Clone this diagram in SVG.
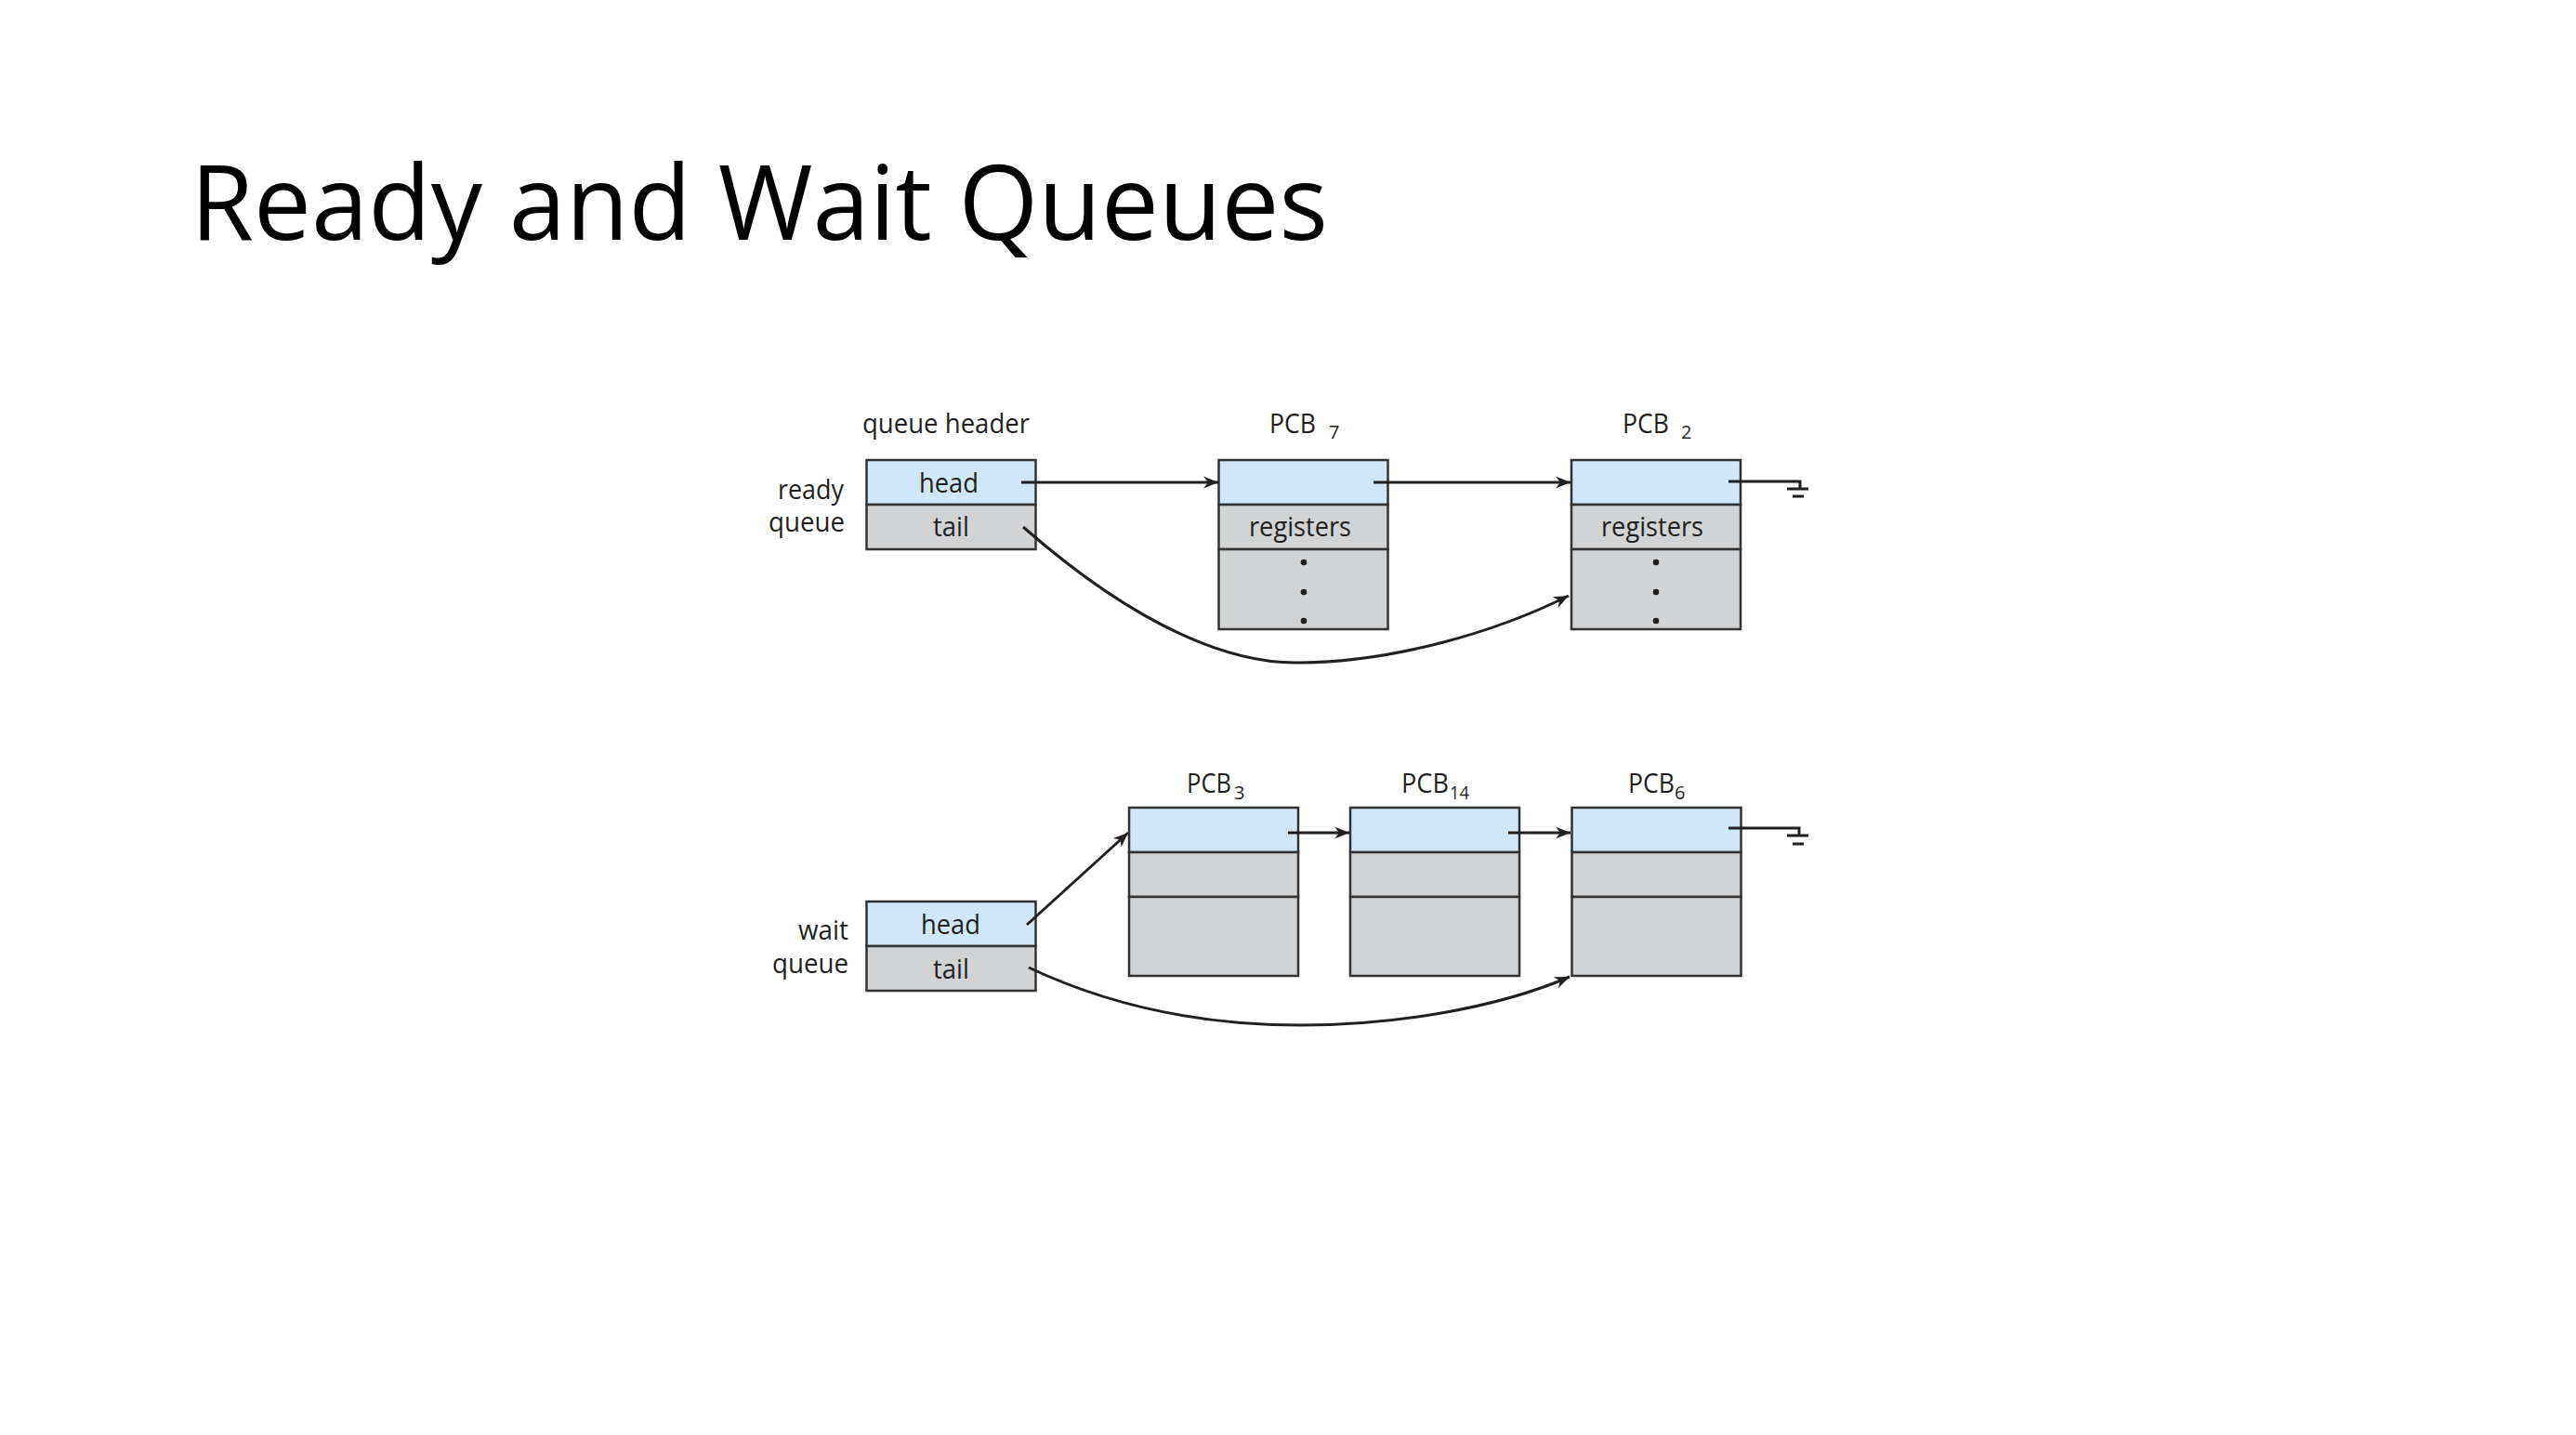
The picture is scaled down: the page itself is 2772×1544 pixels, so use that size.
<svg xmlns="http://www.w3.org/2000/svg" width="2772" height="1544" viewBox="0 0 2772 1544">
<defs>
<style>
.title{font-family:"Open Sans","Liberation Sans",sans-serif;font-weight:400;font-size:112px;fill:#000}
.lbl{font-family:"Open Sans","Liberation Sans",sans-serif;font-size:30px;fill:#231f20}
.sub{font-family:"Open Sans","Liberation Sans",sans-serif;font-size:20px;fill:#231f20}
.blue{fill:#cfe7f8;stroke:#333;stroke-width:2.5}
.gray{fill:#d2d3d5;stroke:#333;stroke-width:2.5}
.conn{fill:none;stroke:#231f20;stroke-width:3}
.gnd{fill:none;stroke:#231f20;stroke-width:3}
.dot{fill:#231f20}
</style>
<marker id="ah" viewBox="-16 -7 17 14" refX="0" refY="0" markerWidth="17" markerHeight="14" markerUnits="userSpaceOnUse" orient="auto">
<path d="M0,0 L-16,-6.5 L-11,0 L-16,6.5 Z" fill="#231f20"/>
</marker>
</defs>
<rect width="2772" height="1544" fill="#fff"/>
<text class="title" x="205" y="258" textLength="1224" lengthAdjust="spacingAndGlyphs">Ready and Wait Queues</text>

<g id="ready-queue-label">
<text class="lbl" x="837" y="537" textLength="71" lengthAdjust="spacingAndGlyphs">ready</text>
<text class="lbl" x="827" y="572" textLength="82" lengthAdjust="spacingAndGlyphs">queue</text>
</g>
<g id="ready-header">
<text class="lbl" x="928" y="466" textLength="180" lengthAdjust="spacingAndGlyphs">queue header</text>
<rect class="blue" x="932.5" y="495" width="182" height="48"/>
<rect class="gray" x="932.5" y="543" width="182" height="48"/>
<text class="lbl" x="989" y="530" textLength="64" lengthAdjust="spacingAndGlyphs">head</text>
<text class="lbl" x="1004" y="577" textLength="39" lengthAdjust="spacingAndGlyphs">tail</text>
</g>
<g id="pcb7">
<text class="lbl" x="1366" y="466" textLength="50" lengthAdjust="spacingAndGlyphs">PCB</text>
<text class="sub" x="1430" y="472">7</text>
<rect class="blue" x="1311.5" y="495" width="182" height="48"/>
<rect class="gray" x="1311.5" y="543" width="182" height="48"/>
<rect class="gray" x="1311.5" y="591" width="182" height="86"/>
<text class="lbl" x="1344" y="577" textLength="110" lengthAdjust="spacingAndGlyphs">registers</text>
<circle class="dot" cx="1403" cy="605" r="3.3"/>
<circle class="dot" cx="1403" cy="637" r="3.3"/>
<circle class="dot" cx="1403" cy="668" r="3.3"/>
</g>
<g id="pcb2">
<text class="lbl" x="1746" y="466" textLength="50" lengthAdjust="spacingAndGlyphs">PCB</text>
<text class="sub" x="1809" y="472">2</text>
<rect class="blue" x="1691" y="495" width="182" height="48"/>
<rect class="gray" x="1691" y="543" width="182" height="48"/>
<rect class="gray" x="1691" y="591" width="182" height="86"/>
<text class="lbl" x="1723" y="577" textLength="110" lengthAdjust="spacingAndGlyphs">registers</text>
<circle class="dot" cx="1782" cy="605" r="3.3"/>
<circle class="dot" cx="1782" cy="637" r="3.3"/>
<circle class="dot" cx="1782" cy="668" r="3.3"/>
</g>

<g id="wait-queue-label">
<text class="lbl" x="859" y="1011" textLength="54" lengthAdjust="spacingAndGlyphs">wait</text>
<text class="lbl" x="831" y="1047" textLength="82" lengthAdjust="spacingAndGlyphs">queue</text>
</g>
<g id="wait-header">
<rect class="blue" x="932.5" y="970" width="182" height="48"/>
<rect class="gray" x="932.5" y="1018" width="182" height="48"/>
<text class="lbl" x="991" y="1005" textLength="64" lengthAdjust="spacingAndGlyphs">head</text>
<text class="lbl" x="1004" y="1053" textLength="39" lengthAdjust="spacingAndGlyphs">tail</text>
</g>
<g id="pcb3">
<text class="lbl" x="1277" y="853" textLength="48" lengthAdjust="spacingAndGlyphs">PCB</text>
<text class="sub" x="1328" y="860">3</text>
<rect class="blue" x="1215" y="869" width="182" height="48"/>
<rect class="gray" x="1215" y="917" width="182" height="48"/>
<rect class="gray" x="1215" y="965" width="182" height="85"/>
</g>
<g id="pcb14">
<text class="lbl" x="1508" y="853" textLength="51" lengthAdjust="spacingAndGlyphs">PCB</text>
<text class="sub" x="1560" y="860" textLength="21" lengthAdjust="spacingAndGlyphs">14</text>
<rect class="blue" x="1453" y="869" width="182" height="48"/>
<rect class="gray" x="1453" y="917" width="182" height="48"/>
<rect class="gray" x="1453" y="965" width="182" height="85"/>
</g>
<g id="pcb6">
<text class="lbl" x="1752" y="853" textLength="50" lengthAdjust="spacingAndGlyphs">PCB</text>
<text class="sub" x="1802" y="860">6</text>
<rect class="blue" x="1691.5" y="869" width="182" height="48"/>
<rect class="gray" x="1691.5" y="917" width="182" height="48"/>
<rect class="gray" x="1691.5" y="965" width="182" height="85"/>
</g>

<g id="connectors">
<line class="conn" x1="1099" y1="519" x2="1311" y2="519" marker-end="url(#ah)"/>
<line class="conn" x1="1478" y1="519" x2="1690" y2="519" marker-end="url(#ah)"/>
<path class="conn" d="M1101,567 C1230,680 1330,715 1400,713 C1500,712 1610,680 1688,641" marker-end="url(#ah)"/>
<path class="gnd" d="M1860,518 H1937 V526 M1923,526 H1946 M1929,534 H1941"/>
<line class="conn" x1="1105" y1="995" x2="1214" y2="896" marker-end="url(#ah)"/>
<line class="conn" x1="1386" y1="896" x2="1452" y2="896" marker-end="url(#ah)"/>
<line class="conn" x1="1623" y1="896" x2="1690" y2="896" marker-end="url(#ah)"/>
<path class="conn" d="M1107,1041 C1200,1085 1300,1103 1400,1103 C1500,1103 1610,1085 1689,1051" marker-end="url(#ah)"/>
<path class="gnd" d="M1860,891 H1936 V899 M1923,899 H1946 M1929,908 H1941"/>
</g>
</svg>
